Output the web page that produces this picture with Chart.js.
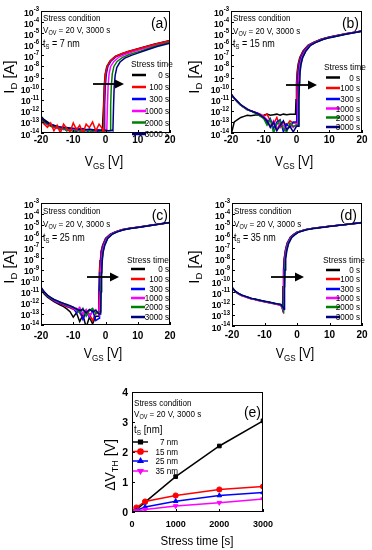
<!DOCTYPE html>
<html>
<head>
<meta charset="utf-8">
<script src="https://cdn.jsdelivr.net/npm/chart.js@4.4.0/dist/chart.umd.min.js"></script>
<style>
  body { margin: 0; background: #fff; }
  .layer { position: absolute; left: 0; top: 0; }
</style>
</head>
<body>
<canvas id="cA" class="layer" width="372" height="550"></canvas>
<canvas id="cB" class="layer" width="372" height="550"></canvas>
<canvas id="cC" class="layer" width="372" height="550"></canvas>
<canvas id="cD" class="layer" width="372" height="550"></canvas>
<canvas id="cE" class="layer" width="372" height="550"></canvas>
<script>
// ---- data ----
var stressLabels = ['0 s', '100 s', '300 s', '1000 s', '2000 s', '3000 s'];
var vgsTicks = [-20, -10, 0, 10, 20];
var decades = [-3, -4, -5, -6, -7, -8, -9, -10, -11, -12, -13, -14];

// (a) ts = 7 nm : off-state grid + log10(ID) values, then on-branch [VGS, log10(ID)]
var gridA = [-20, -19, -18, -17, -16, -15, -14, -13, -12, -11, -10, -9, -8, -7, -6, -5, -4, -3, -2, -1, 0, 1, 2];
var offA = [
  [-12.5, -12.8, -13.0, -13.2, -13.3, -13.4, -13.5, -13.5, -13.6, -13.6, -13.6, -13.7, -13.7, -13.7, -13.8, -13.7, -13.8, -13.8, -13.8, -13.9],
  [-12.9, -13.2, -13.5, -13.1, -13.8, -13.3, -14.0, -13.2, -13.6, -13.9, -13.1, -13.7, -13.3, -14.0, -13.2, -13.5, -13.0, -13.8, -13.2, -13.6],
  [-12.7, -13.0, -13.2, -13.3, -13.5, -13.4, -13.6, -13.5, -13.8, -13.6, -13.7, -13.9, -13.6, -13.8, -13.7, -14.0, -13.7, -13.8, -13.9, -13.7],
  [-12.6, -13.0, -13.3, -13.2, -13.4, -13.6, -13.5, -13.7, -13.6, -13.8, -13.7, -13.6, -13.9, -13.7, -13.8, -13.7, -13.9, -13.8, -13.7, -13.9, -13.8],
  [-12.7, -13.1, -13.2, -13.4, -13.5, -13.5, -13.7, -13.6, -13.8, -13.7, -13.9, -13.7, -13.8, -14.0, -13.7, -13.8, -13.9, -13.7, -13.8, -13.9, -13.8, -13.8],
  [-12.6, -12.9, -13.1, -13.25, -13.35, -13.4, -13.45, -13.5, -13.5, -13.55, -13.6, -13.6, -13.65, -13.6, -13.7, -13.65, -13.7, -13.7, -13.75, -13.7, -13.75, -13.8, -13.75]
];
var onA = [
  [[-0.8, -13.9], [-0.6, -11.5], [-0.4, -9.8], [-0.1, -8.7], [0.4, -8.0], [1.4, -7.5], [3, -7.1], [5, -6.85], [7, -6.65], [10, -6.4], [15, -6.0], [20, -5.65]],
  [[-0.7, -13.9], [-0.5, -11.5], [-0.3, -9.8], [0, -8.7], [0.5, -8.0], [1.5, -7.5], [3.1, -7.1], [5.1, -6.85], [7.1, -6.65], [10, -6.42], [15, -6.02], [20, -5.67]],
  [[-0.45, -13.9], [-0.25, -11.5], [-0.05, -9.8], [0.25, -8.7], [0.75, -8.0], [1.75, -7.5], [3.4, -7.1], [5.4, -6.87], [7.4, -6.67], [10, -6.45], [15, -6.05], [20, -5.7]],
  [[0.4, -13.8], [0.6, -11.5], [0.8, -9.8], [1.1, -8.7], [1.6, -8.0], [2.6, -7.55], [4.2, -7.15], [6.2, -6.9], [8.2, -6.7], [10.5, -6.5], [15, -6.12], [20, -5.75]],
  [[1.4, -13.8], [1.6, -11.5], [1.8, -9.8], [2.1, -8.7], [2.6, -8.0], [3.6, -7.55], [5.2, -7.2], [7.2, -6.95], [9.2, -6.75], [11, -6.6], [15, -6.2], [20, -5.82]],
  [[2.3, -13.8], [2.5, -11.5], [2.7, -9.8], [3.0, -8.8], [3.5, -8.1], [4.5, -7.6], [6, -7.25], [8, -7.0], [10, -6.8], [13, -6.5], [16, -6.2], [20, -5.9]]
];

// (b) ts = 15 nm
var gridB = [-20, -19, -18, -17, -16, -15, -14, -13, -12, -11, -10, -9, -8, -7, -6, -5, -4, -3, -2, -1, 0];
var offB = [
  [-14.2, -13.0, -12.8, -12.6, -12.5, -12.4, -12.45, -12.4, -12.35, -12.45, -12.4, -12.3, -12.4, -12.35, -12.3, -12.4, -12.3, -12.35, -12.3, -12.3],
  [-10.5, -10.9, -11.2, -11.5, -11.7, -11.85, -12.0, -12.1, -12.2, -12.3, -12.5, -12.3, -12.9, -13.2, -12.6, -13.5, -13.0, -13.3, -12.9, -13.1],
  [-10.5, -10.9, -11.2, -11.5, -11.7, -11.9, -12.0, -12.1, -12.2, -12.4, -12.6, -13.1, -12.7, -13.6, -13.0, -12.8, -13.9, -13.2, -13.5, -13.0],
  [-10.5, -10.9, -11.2, -11.5, -11.7, -11.9, -12.0, -12.1, -12.3, -12.4, -12.5, -12.8, -13.4, -12.9, -13.7, -13.1, -13.3, -13.8, -13.2, -13.5, -13.2],
  [-10.5, -10.9, -11.2, -11.5, -11.7, -11.9, -12.0, -12.15, -12.3, -12.5, -12.7, -13.3, -12.8, -14.0, -13.2, -12.9, -13.6, -13.9, -13.1, -13.4, -13.3],
  [-10.45, -10.85, -11.15, -11.45, -11.65, -11.85, -12.0, -12.1, -12.25, -12.4, -12.6, -12.9, -13.5, -13.0, -13.8, -13.3, -12.9, -13.7, -13.4, -13.9, -13.4]
];
var onB = [
  [[-0.3, -12.3], [-0.15, -11], [0, -9.5], [0.2, -8.5], [0.5, -7.8], [1, -7.2], [2, -6.6], [3.5, -6.1], [5, -5.85], [7.5, -5.55], [10, -5.35], [15, -5.05], [20, -4.8]],
  [[-0.15, -13.1], [0, -11], [0.15, -9.5], [0.35, -8.5], [0.65, -7.8], [1.15, -7.2], [2.15, -6.6], [3.6, -6.1], [5.1, -5.85], [7.6, -5.55], [10, -5.36], [15, -5.06], [20, -4.8]],
  [[0.05, -13.0], [0.2, -11], [0.35, -9.5], [0.55, -8.5], [0.85, -7.8], [1.35, -7.2], [2.35, -6.6], [3.8, -6.1], [5.3, -5.85], [7.8, -5.55], [10, -5.37], [15, -5.07], [20, -4.81]],
  [[0.3, -13.2], [0.45, -11], [0.6, -9.5], [0.8, -8.5], [1.1, -7.8], [1.6, -7.2], [2.6, -6.6], [4, -6.1], [5.5, -5.85], [8, -5.55], [10.2, -5.38], [15, -5.08], [20, -4.82]],
  [[0.5, -13.3], [0.65, -11], [0.8, -9.5], [1.0, -8.5], [1.3, -7.8], [1.8, -7.2], [2.8, -6.6], [4.2, -6.1], [5.7, -5.85], [8.2, -5.55], [10.4, -5.38], [15, -5.09], [20, -4.82]],
  [[0.6, -13.4], [0.75, -11], [0.9, -9.5], [1.1, -8.5], [1.4, -7.8], [1.9, -7.2], [2.9, -6.6], [4.3, -6.1], [5.8, -5.85], [8.3, -5.55], [10.5, -5.38], [15, -5.1], [20, -4.83]]
];

// (c) ts = 25 nm
var gridC = [-20, -19, -18, -17, -16, -15, -14, -13, -12, -11, -10, -9, -8, -7, -6, -5, -4, -3, -2];
var offC = [
  [-10.8, -11.2, -11.5, -11.7, -11.9, -12.05, -12.2, -12.35, -12.55, -12.8, -13.3, -12.9, -13.7, -13.1, -14.2, -13.3, -13.9, -13.2],
  [-10.7, -11.1, -11.4, -11.6, -11.8, -11.95, -12.1, -12.2, -12.35, -12.45, -12.6, -12.5, -12.9, -13.4, -12.7, -13.0, -13.6, -12.9],
  [-10.7, -11.1, -11.4, -11.6, -11.8, -11.95, -12.05, -12.15, -12.3, -12.4, -12.5, -12.9, -12.6, -13.5, -12.8, -13.3, -12.7, -13.6],
  [-10.65, -11.05, -11.35, -11.55, -11.75, -11.9, -12.0, -12.1, -12.25, -12.35, -12.5, -12.7, -12.4, -13.0, -12.6, -13.2, -12.8, -12.6, -13.1],
  [-10.65, -11.05, -11.35, -11.55, -11.7, -11.85, -11.95, -12.05, -12.2, -12.3, -12.4, -12.6, -12.9, -12.5, -13.2, -12.7, -12.5, -13.0, -12.8],
  [-10.6, -11.0, -11.3, -11.5, -11.7, -11.8, -11.95, -12.05, -12.15, -12.25, -12.4, -12.55, -12.7, -12.6, -12.9, -12.6, -12.8, -12.7, -13.0]
];
var onC = [
  [[-2.2, -13.2], [-2.05, -11], [-1.9, -9.3], [-1.7, -8.2], [-1.4, -7.4], [-0.9, -6.8], [0, -6.2], [1.5, -5.8], [3, -5.6], [5, -5.42], [7.5, -5.28], [10, -5.18], [15, -4.97], [20, -4.75]],
  [[-2.12, -12.9], [-1.97, -11], [-1.82, -9.3], [-1.62, -8.2], [-1.32, -7.4], [-0.82, -6.8], [0.08, -6.2], [1.6, -5.8], [3.1, -5.6], [5.1, -5.42], [7.6, -5.28], [10, -5.18], [15, -4.97], [20, -4.75]],
  [[-2.0, -13.4], [-1.85, -11], [-1.7, -9.3], [-1.5, -8.2], [-1.2, -7.4], [-0.7, -6.8], [0.2, -6.2], [1.7, -5.8], [3.2, -5.6], [5.2, -5.42], [7.7, -5.28], [10.1, -5.18], [15, -4.97], [20, -4.75]],
  [[-1.8, -13.1], [-1.65, -11], [-1.5, -9.3], [-1.3, -8.2], [-1.0, -7.4], [-0.5, -6.8], [0.4, -6.2], [1.9, -5.8], [3.4, -5.6], [5.4, -5.42], [7.9, -5.28], [10.3, -5.18], [15, -4.98], [20, -4.76]],
  [[-1.6, -12.8], [-1.45, -11], [-1.3, -9.3], [-1.1, -8.2], [-0.8, -7.4], [-0.3, -6.8], [0.6, -6.2], [2.1, -5.8], [3.6, -5.6], [5.6, -5.42], [8.1, -5.28], [10.5, -5.18], [15, -4.98], [20, -4.76]],
  [[-1.5, -13.0], [-1.35, -11], [-1.2, -9.3], [-1.0, -8.2], [-0.7, -7.4], [-0.2, -6.8], [0.7, -6.2], [2.2, -5.8], [3.7, -5.6], [5.7, -5.42], [8.2, -5.28], [10.6, -5.18], [15, -4.98], [20, -4.76]]
];

// (d) ts = 35 nm
var gridD = [-20, -19, -18, -17, -16, -15, -14, -13, -12, -11, -10, -9, -8, -7, -6, -5];
var offD = [
  [-10.55, -10.9, -11.1, -11.25, -11.35, -11.45, -11.55, -11.6, -11.68, -11.74, -11.8, -11.86, -11.92, -11.98, -12.04, -12.1],
  [-10.57, -10.92, -11.12, -11.27, -11.37, -11.47, -11.57, -11.63, -11.7, -11.76, -11.83, -11.89, -11.95, -12.01, -12.07, -12.14],
  [-10.55, -10.9, -11.11, -11.26, -11.36, -11.46, -11.56, -11.61, -11.69, -11.75, -11.81, -11.87, -11.93, -11.99, -12.05, -12.11],
  [-10.58, -10.93, -11.14, -11.29, -11.39, -11.49, -11.59, -11.64, -11.72, -11.78, -11.84, -11.9, -11.96, -12.02, -12.08, -12.16],
  [-10.55, -10.9, -11.1, -11.25, -11.35, -11.45, -11.55, -11.6, -11.68, -11.74, -11.8, -11.86, -11.92, -11.98, -12.04, -12.1],
  [-10.53, -10.88, -11.08, -11.23, -11.33, -11.43, -11.53, -11.58, -11.66, -11.72, -11.78, -11.84, -11.9, -11.96, -12.02, -12.08]
];
var onD = [
  [[-4.6, -12.35], [-4.45, -12.5], [-4.3, -10.5], [-4.15, -9.0], [-3.95, -8.0], [-3.55, -7.2], [-3.05, -6.6], [-2, -6.05], [-1, -5.8], [0, -5.6], [2.5, -5.38], [5, -5.25], [10, -5.08], [15, -4.92], [20, -4.75]],
  [[-4.55, -12.38], [-4.4, -12.52], [-4.25, -10.5], [-4.1, -9.0], [-3.9, -8.0], [-3.5, -7.2], [-3.0, -6.6], [-1.95, -6.05], [-0.95, -5.8], [0.05, -5.6], [2.55, -5.38], [5.05, -5.25], [10, -5.08], [15, -4.92], [20, -4.75]],
  [[-4.5, -12.36], [-4.35, -12.5], [-4.2, -10.5], [-4.05, -9.0], [-3.85, -8.0], [-3.45, -7.2], [-2.95, -6.6], [-1.9, -6.05], [-0.9, -5.8], [0.1, -5.6], [2.6, -5.38], [5.1, -5.25], [10, -5.08], [15, -4.92], [20, -4.75]],
  [[-4.4, -12.4], [-4.22, -12.55], [-4.07, -10.5], [-3.92, -9.0], [-3.72, -8.0], [-3.32, -7.2], [-2.82, -6.62], [-1.8, -6.07], [-0.8, -5.82], [0.2, -5.62], [2.7, -5.39], [5.2, -5.26], [10, -5.09], [15, -4.93], [20, -4.76]],
  [[-4.3, -12.38], [-4.1, -12.55], [-3.95, -10.5], [-3.8, -9.0], [-3.6, -8.0], [-3.2, -7.2], [-2.7, -6.62], [-1.7, -6.07], [-0.7, -5.82], [0.3, -5.62], [2.8, -5.39], [5.3, -5.26], [10, -5.09], [15, -4.93], [20, -4.76]],
  [[-4.2, -12.35], [-3.98, -12.5], [-3.83, -10.5], [-3.68, -9.0], [-3.48, -8.0], [-3.08, -7.2], [-2.58, -6.63], [-1.6, -6.08], [-0.6, -5.83], [0.4, -5.63], [2.9, -5.4], [5.4, -5.27], [10, -5.1], [15, -4.93], [20, -4.76]]
];

// (e) threshold voltage shift vs stress time
var stressTime = [0, 100, 300, 1000, 2000, 3000];
var thickLabels = ['7 nm', '15 nm', '25 nm', '35 nm'];
var dvth7 = [0, 0.07, 0.33, 1.18, 2.2, 3.04];
var dvth15 = [0.02, 0.15, 0.35, 0.55, 0.75, 0.85];
var dvth25 = [0, 0.05, 0.17, 0.36, 0.55, 0.65];
var dvth35 = [0, 0.03, 0.08, 0.2, 0.31, 0.43];
var timeTicks = [0, 1000, 2000, 3000];
var dvthTicks = [0, 1, 2, 3, 4];

// ---- drawing ----
var FONT = '"Liberation Sans", Arial, sans-serif';
var curveColors = ['#000000', '#ff0000', '#0000ff', '#ff00ff', '#008000', '#000080'];

function rich(ctx, parts, x, y, align, sx) {
  // parts: [text, size, dy, bold]
  var w = 0;
  parts.forEach(function (p) {
    ctx.font = (p[3] ? 'bold ' : '') + p[1] + 'px ' + FONT;
    w += ctx.measureText(p[0]).width;
  });
  sx = sx || 1;
  ctx.save();
  ctx.translate(x, y);
  ctx.scale(sx, 1);
  ctx.textAlign = 'left';
  ctx.textBaseline = 'alphabetic';
  ctx.fillStyle = '#000';
  var cx = align === 'right' ? -w : (align === 'center' ? -w / 2 : 0);
  parts.forEach(function (p) {
    ctx.font = (p[3] ? 'bold ' : '') + p[1] + 'px ' + FONT;
    ctx.fillText(p[0], cx, p[2] || 0);
    cx += ctx.measureText(p[0]).width;
  });
  ctx.restore();
}

function frame(ctx, a) {
  ctx.strokeStyle = '#000';
  ctx.lineWidth = 1;
  ctx.strokeRect(Math.round(a.left) + 0.5, Math.round(a.top) + 0.5,
    Math.round(a.right - a.left) - 1, Math.round(a.bottom - a.top) - 1);
}

function arrow(ctx, x0, x1, y) {
  ctx.strokeStyle = '#000';
  ctx.lineWidth = 1.8;
  ctx.beginPath(); ctx.moveTo(x0, y); ctx.lineTo(x1 - 6, y); ctx.stroke();
  ctx.fillStyle = '#000';
  ctx.beginPath(); ctx.moveTo(x1, y); ctx.lineTo(x1 - 9, y - 4.5); ctx.lineTo(x1 - 9, y + 4.5); ctx.closePath(); ctx.fill();
}

function makePoints(grid, off, on) {
  var pts = off.map(function (e, i) { return { x: grid[i], y: Math.pow(10, e) }; });
  on.forEach(function (p) { pts.push({ x: p[0], y: Math.pow(10, p[1]) }); });
  return pts;
}

function transferChart(id, grid, off, on, p) {
  var datasets = off.map(function (o, i) {
    return {
      label: stressLabels[i],
      data: makePoints(grid, o, on[i]),
      borderColor: curveColors[i],
      borderWidth: 1.5,
      pointRadius: 0,
      order: (p.redTop && i === 1) ? 0 : 6 - i
    };
  });
  var decor = {
    id: 'decor',
    afterDraw: function (chart) {
      var ctx = chart.ctx, a = chart.chartArea, xs = chart.scales.x, ys = chart.scales.y;
      ctx.save();
      frame(ctx, a);
      ctx.beginPath();
      vgsTicks.forEach(function (v) {
        var px = Math.round(xs.getPixelForValue(v)) + 0.5;
        ctx.moveTo(px, a.bottom); ctx.lineTo(px, a.bottom - 3);
      });
      decades.forEach(function (e) {
        var py = Math.round(ys.getPixelForValue(Math.pow(10, e))) + 0.5;
        ctx.moveTo(a.left, py); ctx.lineTo(a.left + 3, py);
      });
      ctx.stroke();
      vgsTicks.forEach(function (v) {
        rich(ctx, [[String(v), 10, 0, true]], xs.getPixelForValue(v), p.xTickY, 'center');
      });
      decades.forEach(function (e) {
        var py = ys.getPixelForValue(Math.pow(10, e));
        rich(ctx, [['10', 9.5, 0, true], [String(e), 6.5, -4.5, true]], a.left - 2, py + 4.5, 'right', 0.92);
      });
      // axis titles
      ctx.save();
      ctx.translate(p.yTitle[0], p.yTitle[1]);
      ctx.rotate(-Math.PI / 2);
      rich(ctx, [['I', 15], ['D', 9.5, 3], [' [A]', 15]], 0, 0, 'center');
      ctx.restore();
      rich(ctx, [['V', 14.5], ['GS', 9.5, 3], [' [V]', 14.5]], p.xTitle[0], p.xTitle[1], 'center', 0.85);
      // stress condition text
      rich(ctx, [['Stress condition', 9.5]], p.tx, p.ty[0], 'left', 0.85);
      rich(ctx, [['V', 9.5], ['OV', 6.5, 2], [' = 20 V, 3000 s', 9.5]], p.tx, p.ty[1], 'left', 0.85);
      rich(ctx, [['t', 10], ['S', 6.5, 2.5], [' = ' + p.ts, 10]], p.tx, p.ty[2], 'left', 0.9);
      rich(ctx, [[p.tag, 14]], p.tagPos[0], p.tagPos[1], 'right');
      // legend
      rich(ctx, [['Stress time', 9.5]], p.legX, p.legTitleY, 'left', 0.88);
      stressLabels.forEach(function (s, i) {
        var y = p.legY[i];
        ctx.strokeStyle = curveColors[i];
        ctx.lineWidth = 2.5;
        ctx.beginPath(); ctx.moveTo(p.lineX[0], y); ctx.lineTo(p.lineX[1], y); ctx.stroke();
        rich(ctx, [[s, 9]], p.textRight, y + 3.2, 'right', 0.9);
      });
      arrow(ctx, p.arrow[0], p.arrow[1], p.arrow[2]);
      ctx.restore();
    }
  };
  return new Chart(document.getElementById(id), {
    type: 'line',
    data: { datasets: datasets },
    options: {
      responsive: false,
      animation: false,
      events: [],
      layout: { padding: p.pad },
      plugins: { legend: { display: false }, tooltip: { enabled: false } },
      scales: {
        x: { type: 'linear', min: -20, max: 20, display: false },
        y: { type: 'logarithmic', min: 1e-14, max: 1e-3, display: false }
      }
    },
    plugins: [decor]
  });
}

transferChart('cA', gridA, offA, onA, {
  pad: { left: 41, top: 11, right: 202, bottom: 417 }, redTop: true,
  xTickY: 143, yTitle: [14, 77], xTitle: [104, 166],
  tx: 43, ty: [20.5, 32.5, 46.5], ts: '7 nm', tag: '(a)', tagPos: [168, 27.5],
  legX: 131, legTitleY: 67, legY: [75, 87, 99, 111, 122.5, 134],
  lineX: [132, 146], textRight: 169, arrow: [93, 124, 84]
});
transferChart('cB', gridB, offB, onB, {
  pad: { left: 231, top: 11, right: 10, bottom: 417 },
  xTickY: 143, yTitle: [199, 77], xTitle: [294, 166],
  tx: 233, ty: [20.5, 33.5, 46.5], ts: '15 nm', tag: '(b)', tagPos: [359, 27.5],
  legX: 324, legTitleY: 70, legY: [77.5, 88, 99, 108.5, 117.5, 127],
  lineX: [326, 340], textRight: 360, arrow: [286, 317, 85]
});
transferChart('cC', gridC, offC, onC, {
  pad: { left: 41, top: 203, right: 202, bottom: 225 },
  xTickY: 338.5, yTitle: [14, 267], xTitle: [103, 358],
  tx: 43, ty: [213.5, 227, 240.5], ts: '25 nm', tag: '(c)', tagPos: [168, 220],
  legX: 127, legTitleY: 263, legY: [269, 279, 289, 298, 307, 317],
  lineX: [131, 145], textRight: 169, arrow: [87, 119, 277]
});
transferChart('cD', gridD, offD, onD, {
  pad: { left: 232, top: 203, right: 10, bottom: 224 },
  xTickY: 337.5, yTitle: [199, 267], xTitle: [295, 358],
  tx: 234, ty: [213.5, 227, 240.5], ts: '35 nm', tag: '(d)', tagPos: [357, 220],
  legX: 323, legTitleY: 263, legY: [270, 279, 289, 298, 307, 317],
  lineX: [326, 340], textRight: 360, arrow: [271, 304, 277]
});

// (e)
var eColors = ['#000000', '#ff0000', '#0000ff', '#ff00ff'];
var eStyles = [['rect', 0], ['circle', 0], ['triangle', 0], ['triangle', 180]];
var eSeries = [dvth7, dvth15, dvth25, dvth35];
var eDecor = {
  id: 'edecor',
  afterDraw: function (chart) {
    var ctx = chart.ctx, a = chart.chartArea, xs = chart.scales.x, ys = chart.scales.y;
    ctx.save();
    frame(ctx, a);
    ctx.beginPath();
    timeTicks.forEach(function (v) {
      var px = Math.round(xs.getPixelForValue(v)) + 0.5;
      ctx.moveTo(px, a.bottom); ctx.lineTo(px, a.bottom - 3);
    });
    dvthTicks.forEach(function (v) {
      var py = Math.round(ys.getPixelForValue(v)) + 0.5;
      ctx.moveTo(a.left, py); ctx.lineTo(a.left + 3, py);
    });
    ctx.stroke();
    timeTicks.forEach(function (v) {
      rich(ctx, [[String(v), 9, 0, true]], xs.getPixelForValue(v), 526.5, 'center');
    });
    dvthTicks.forEach(function (v) {
      rich(ctx, [[String(v), 10.5, 0, true]], a.left - 4, ys.getPixelForValue(v) + 3.8, 'right');
    });
    ctx.save();
    ctx.translate(114.5, 465);
    ctx.rotate(-Math.PI / 2);
    rich(ctx, [['\u0394V', 14], ['TH', 9, 3], [' [V]', 14]], 0, 0, 'center');
    ctx.restore();
    rich(ctx, [['Stress time [s]', 12.5]], 197, 544.5, 'center', 0.92);
    rich(ctx, [['Stress condition', 9.5]], 134, 405.5, 'left', 0.85);
    rich(ctx, [['V', 9.5], ['OV', 6.5, 2], [' = 20 V, 3000 s', 9.5]], 134, 417, 'left', 0.85);
    rich(ctx, [['t', 10.5], ['S', 7, 2.5], [' [nm]', 10.5]], 134, 432.5, 'left', 0.92);
    rich(ctx, [['(e)', 14]], 261, 417, 'right');
    var ly = [442, 451.5, 461, 471];
    thickLabels.forEach(function (s, i) {
      ctx.strokeStyle = eColors[i];
      ctx.lineWidth = 1.5;
      ctx.beginPath(); ctx.moveTo(133, ly[i]); ctx.lineTo(148, ly[i]); ctx.stroke();
      ctx.fillStyle = eColors[i];
      Chart.helpers.drawPoint(ctx, { pointStyle: eStyles[i][0], rotation: eStyles[i][1], radius: 2.6, borderWidth: 1 }, 140.5, ly[i]);
      ctx.fill();
      rich(ctx, [[s, 9]], 178, ly[i] + 3.2, 'right', 0.9);
    });
    ctx.restore();
  }
};
new Chart(document.getElementById('cE'), {
  type: 'line',
  data: {
    labels: stressTime,
    datasets: eSeries.map(function (s, i) {
      return {
        label: thickLabels[i],
        data: s.map(function (v, k) { return { x: stressTime[k], y: v }; }),
        borderColor: eColors[i],
        backgroundColor: eColors[i],
        borderWidth: 1.5,
        pointStyle: eStyles[i][0],
        rotation: eStyles[i][1],
        pointRadius: 2.6,
        pointBorderWidth: 1,
        order: 4 - i
      };
    })
  },
  options: {
    responsive: false,
    animation: false,
    events: [],
    layout: { padding: { left: 132, top: 392, right: 109, bottom: 38 } },
    plugins: { legend: { display: false }, tooltip: { enabled: false } },
    scales: {
      x: { type: 'linear', min: 0, max: 3000, display: false },
      y: { type: 'linear', min: 0, max: 4, display: false }
    }
  },
  plugins: [eDecor]
});
</script>
</body>
</html>
